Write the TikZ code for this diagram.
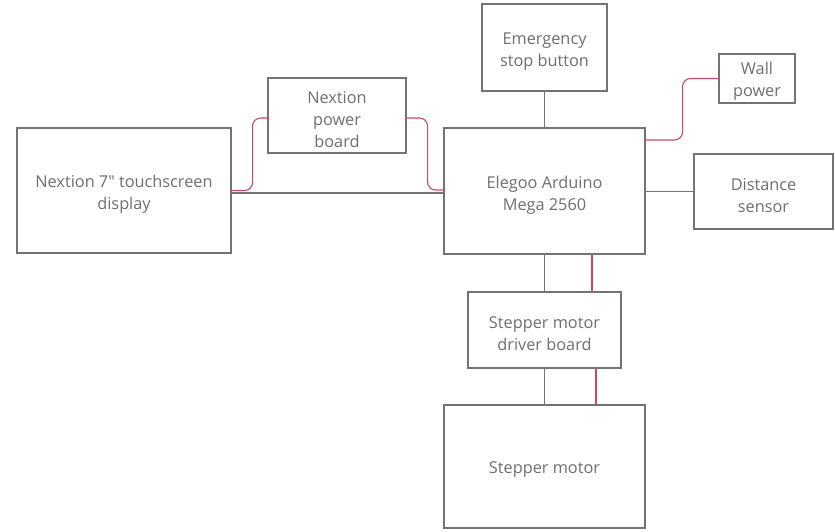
\documentclass[tikz,border=0pt]{standalone}
\usepackage{fontspec}
\newfontfamily\osans{Open Sans}
\definecolor{boxgray}{RGB}{115,115,115}
\definecolor{txtgray}{RGB}{110,110,110}
\definecolor{pwred}{RGB}{200,72,102}
\begin{document}
\begin{tikzpicture}[x=1pt,y=-1pt,
  blk/.style={draw=boxgray, line width=1.1pt, rectangle, inner sep=0pt},
  lbl/.style={align=center, text=txtgray, font=\osans\fontsize{16.3}{22}\selectfont,
    inner sep=0pt, yshift=-4pt},
  sig/.style={draw=boxgray, line width=1.1pt},
  pwr/.style={draw=pwred, line width=1.1pt, rounded corners=8pt}]
\useasboundingbox (0,0) rectangle (835,531);
\node[blk, minimum width=214pt, minimum height=125pt, label={[lbl]center:{Nextion 7" touchscreen\\display}}] (disp) at (124,190.5) {};
\node[blk, minimum width=138pt, minimum height=75pt, label={[lbl]center:{Nextion\\power\\board}}] (pwb) at (337,115.5) {};
\node[blk, minimum width=201pt, minimum height=126pt, label={[lbl]center:{Elegoo Arduino\\Mega 2560}}] (ard) at (544.5,191) {};
\node[blk, minimum width=125pt, minimum height=87pt, label={[lbl]center:{Emergency\\stop button}}] (em) at (544.5,47.5) {};
\node[blk, minimum width=76pt, minimum height=49pt, label={[lbl, yshift=1pt]center:{Wall\\power}}] (wall) at (757,78.5) {};
\node[blk, minimum width=139pt, minimum height=75pt, label={[lbl]center:{Distance\\sensor}}] (dist) at (763.5,191.5) {};
\node[blk, minimum width=153pt, minimum height=76pt, label={[lbl]center:{Stepper motor\\driver board}}] (drv) at (544.5,330) {};
\node[blk, minimum width=201pt, minimum height=123pt, label={[lbl, yshift=1pt]center:{Stepper motor}}] (mot) at (544.5,466.5) {};
\coordinate (dsig) at ([yshift=-2.5pt]disp.east);
% signal connectors
\draw[sig] (dsig) -- (ard.west |- dsig);
\draw[sig] (em.south) -- (em.south |- ard.north);
\draw[sig] (ard.east |- dist.west) -- (dist.west);
\draw[sig] (ard.south) -- (ard.south |- drv.north);
\draw[sig] (drv.south) -- (drv.south |- mot.north);
% power connectors
\coordinate (ardp) at ([xshift=47.5pt]ard.south);
\coordinate (drvp) at ([xshift=51.5pt]drv.south);
\draw[pwr] (disp.east) -- ++(21,0) |- ([yshift=-2.5pt]pwb.west);
\draw[pwr] ([yshift=-2.5pt]pwb.east) -- ++(21,0) |- ([yshift=1pt]ard.west);
\draw[pwr] ([yshift=51pt]ard.east) -- ++(37,0) |- (wall.west);
\draw[pwr] (ardp) -- (ardp |- drv.north);
\draw[pwr] (drvp) -- (drvp |- mot.north);
\end{tikzpicture}
\end{document}
